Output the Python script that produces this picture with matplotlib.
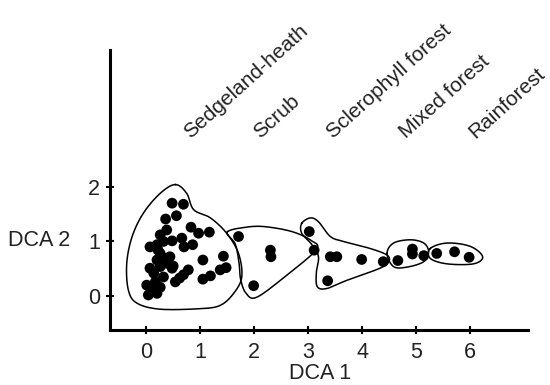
import matplotlib
matplotlib.use("Agg")
import matplotlib.pyplot as plt
import numpy as np

plt.rcParams["font.family"] = ["Liberation Sans", "DejaVu Sans"]

# site scores (DCA 1, DCA 2) per vegetation type
HEATH_X = [0.48, 0.69, 0.56, 0.36, 0.38, 0.83, 0.97, 1.17, 0.26, 0.48, 0.66,
           0.70, 0.86, 0.07, 0.20, 0.32, 0.26, 0.44, 0.20, 0.07, 0.26, 0.48,
           0.38, 1.05, 1.43, 1.48, 1.37, 0.78, 0.69, 0.54, 1.19, 1.05, 0.01,
           0.17, 0.04, 0.20, 0.26, 0.14, 0.32, 0.10, 0.22, 0.35, 0.50, 0.62]
HEATH_Y = [1.70, 1.68, 1.47, 1.41, 1.21, 1.26, 1.15, 1.17, 1.12, 1.01, 1.06,
           0.90, 0.94, 0.90, 0.94, 1.00, 0.78, 0.72, 0.66, 0.51, 0.54, 0.51,
           0.60, 0.66, 0.73, 0.52, 0.48, 0.48, 0.39, 0.26, 0.37, 0.31, 0.20,
           0.26, 0.02, 0.05, 0.16, 0.42, 0.35, 0.13, 0.84, 0.69, 0.55, 0.33]
SCRUB_X = [1.71, 2.30, 2.31, 1.99]
SCRUB_Y = [1.09, 0.84, 0.72, 0.19]
SCLERO_X = [3.02, 3.11, 3.41, 3.53, 3.36, 3.99, 4.39]
SCLERO_Y = [1.18, 0.84, 0.72, 0.72, 0.28, 0.67, 0.63]
MIXED_X = [4.66, 4.93, 4.93, 5.14]
MIXED_Y = [0.65, 0.86, 0.77, 0.74]
RAIN_X = [5.38, 5.71, 5.98]
RAIN_Y = [0.78, 0.81, 0.71]

# hand-drawn group outlines (vertices in DCA units)
HEATH_HULL_X = [0.54, 0.75, 0.88, 1.19, 1.49, 1.71, 1.77, 1.62, 1.37, 1.00,
                0.26, -0.17, -0.33, -0.36, -0.26, -0.05, 0.26]
HEATH_HULL_Y = [2.04, 1.88, 1.58, 1.43, 1.15, 0.78, 0.35, 0.05, -0.17, -0.23,
                -0.24, -0.13, 0.11, 0.60, 1.09, 1.52, 1.88]
SCRUB_HULL_X = [1.50, 1.85, 2.20, 2.70, 3.05, 3.15, 2.60, 2.05, 1.85, 1.75, 1.72, 1.65]
SCRUB_HULL_Y = [1.17, 1.26, 1.27, 1.18, 1.02, 0.85, 0.38, -0.02, 0.05, 0.30, 0.60, 0.95]
SCLERO_HULL_X = [2.88, 3.04, 3.19, 3.41, 3.65, 4.15, 4.46, 4.49, 4.33, 3.72,
                 3.35, 3.17, 3.15, 3.19, 3.07, 2.88]
SCLERO_HULL_Y = [1.33, 1.43, 1.36, 1.09, 1.00, 0.87, 0.75, 0.63, 0.51, 0.29,
                 0.14, 0.17, 0.42, 0.72, 0.94, 1.15]
MIXED_HULL_X = [4.46, 4.58, 4.89, 5.14, 5.23, 5.14, 4.83, 4.58]
MIXED_HULL_Y = [0.78, 0.97, 1.03, 0.97, 0.81, 0.63, 0.53, 0.54]
RAIN_HULL_X = [5.26, 5.57, 6.00, 6.23, 6.06, 5.57, 5.26]
RAIN_HULL_Y = [0.87, 0.97, 0.91, 0.72, 0.59, 0.59, 0.69]

GROUP_LABELS = ["Sedgeland-heath", "Scrub", "Sclerophyll forest",
                "Mixed forest", "Rainforest"]
LABEL_X = [0.82, 2.10, 3.47, 4.82, 6.10]
LABEL_Y = 2.88

X_TICKS = [0, 1, 2, 3, 4, 5, 6]
Y_TICKS = [0, 1, 2]


def smooth_closed(xs, ys, n=16):
    # closed Catmull-Rom spline through the outline vertices
    p = np.column_stack([xs, ys])
    m = len(p)
    out = []
    for i in range(m):
        p0, p1, p2, p3 = p[i - 1], p[i], p[(i + 1) % m], p[(i + 2) % m]
        t = np.linspace(0, 1, n, endpoint=False)[:, None]
        out.append(0.5 * (2 * p1 + (-p0 + p2) * t
                          + (2 * p0 - 5 * p1 + 4 * p2 - p3) * t ** 2
                          + (-p0 + 3 * p1 - 3 * p2 + p3) * t ** 3))
    out = np.vstack(out + [out[0][:1]])
    return out[:, 0], out[:, 1]


fig = plt.figure(figsize=(5.5, 3.85), dpi=100)
ax = fig.add_axes([0.2, 0.1429, 0.76, 0.727])

text_col = "#222222"
fs = 15.5
pts = [(HEATH_X, HEATH_Y), (SCRUB_X, SCRUB_Y), (SCLERO_X, SCLERO_Y),
       (MIXED_X, MIXED_Y), (RAIN_X, RAIN_Y)]
hulls = [(HEATH_HULL_X, HEATH_HULL_Y), (SCRUB_HULL_X, SCRUB_HULL_Y),
         (SCLERO_HULL_X, SCLERO_HULL_Y), (MIXED_HULL_X, MIXED_HULL_Y),
         (RAIN_HULL_X, RAIN_HULL_Y)]

for hx, hy in hulls:
    sx, sy = smooth_closed(hx, hy)
    ax.plot(sx, sy, color="black", lw=1.1)
for px, py in pts:
    ax.scatter(px, py, s=60, color="black", edgecolors="none", zorder=3)

for lab, lx in zip(GROUP_LABELS, LABEL_X):
    ax.text(lx, LABEL_Y, lab, rotation=42, rotation_mode="anchor",
            ha="left", va="baseline", fontsize=15, color=text_col,
            clip_on=False)

ax.set_xlim(-0.67, 7.07)
ax.set_ylim(-0.62, 4.5)
ax.set_xticks(X_TICKS)
ax.set_yticks(Y_TICKS)
ax.tick_params(direction="inout", length=6, width=1.5, labelsize=fs,
               labelcolor=text_col)
ax.tick_params(axis="x", pad=6)
ax.tick_params(axis="y", pad=4)
ax.spines[["top", "right"]].set_visible(False)
ax.spines[["left", "bottom"]].set_linewidth(2.2)

ax.set_xlabel("DCA 1", fontsize=fs, color=text_col, va="center")
ax.xaxis.set_label_coords(0.502, -0.154)
ax.set_ylabel("DCA 2", fontsize=fs, color=text_col, rotation=0,
              ha="right", va="center")
ax.yaxis.set_label_coords(-0.096, 0.318)

fig.savefig("out.png", dpi=100)
